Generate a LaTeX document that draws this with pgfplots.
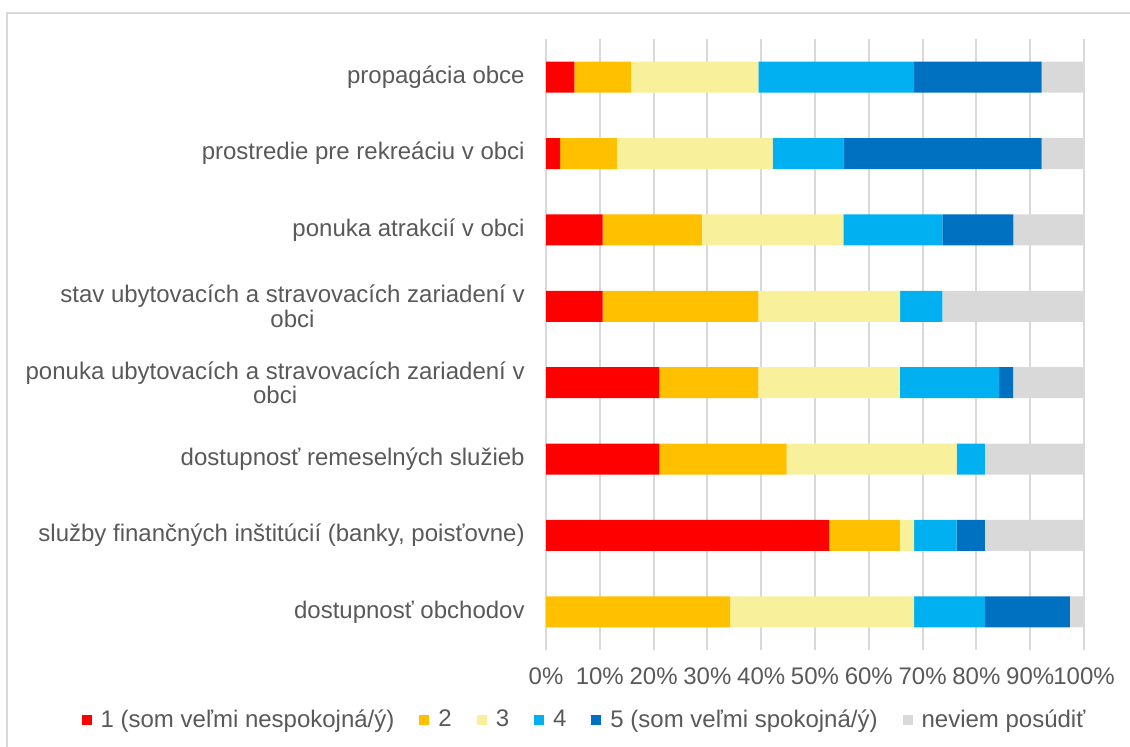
\documentclass[border=0pt]{standalone}
\usepackage{pgfplots}
\pgfplotsset{compat=1.18}
\usepackage{fontspec}
\setmainfont{Liberation Sans}
\definecolor{c1}{HTML}{FF0000}
\definecolor{c2}{HTML}{FFC000}
\definecolor{c3}{HTML}{F8F09B}
\definecolor{c4}{HTML}{00B0F0}
\definecolor{c5}{HTML}{0070C0}
\definecolor{c6}{HTML}{D9D9D9}
\definecolor{gridgray}{HTML}{D9D9D9}
\definecolor{txt}{HTML}{595959}

\begin{document}
\begin{tikzpicture}
\useasboundingbox (0pt,0pt) rectangle (565pt,373.5pt);
% chart frame (only left and top edges are visible)
\draw[gridgray, line width=1pt] (3.5pt,-2pt) -- (3.5pt,367pt) -- (567pt,367pt);
\begin{axis}[
  at={(273pt,48.5pt)}, anchor=south west,
  scale only axis,
  width=269pt, height=305.5pt,
  xbar stacked,
  bar width=15.5pt,
  xmin=0, xmax=100,
  ymin=-0.5, ymax=7.5,
  xtick={0,10,...,100},
  xticklabel={\pgfmathprintnumber{\tick}\%},
  ytick={0,...,7},
  yticklabels={
    dostupnosť obchodov,
    služby finančných inštitúcií (banky{,} poisťovne),
    dostupnosť remeselných služieb,
    ponuka ubytovacích a stravovacích zariadení v\\obci,
    stav ubytovacích a stravovacích zariadení v\\obci,
    ponuka atrakcií v obci,
    prostredie pre rekreáciu v obci,
    propagácia obce},
  /pgf/number format/assume math mode=true,
  major tick length=0pt,
  axis line style={draw=none},
  xmajorgrids,
  grid style={gridgray, line width=1pt},
  tick label style={text=txt, font=\fontsize{12}{11}\selectfont},
  yticklabel style={align=center, anchor=east, inner sep=0pt, xshift=-10.5pt},
  xticklabel style={anchor=base, inner sep=0pt, yshift=-17.5pt},
  legend columns=6,
  legend style={at={(0.0725,-0.1146)}, anchor=center, draw=none, fill=none,
    font=\fontsize{12}{14}\selectfont, text=txt,
    /tikz/every odd column/.append style={column sep=3pt},
    /tikz/every even column/.append style={column sep=11pt},
    nodes={inner sep=1.5pt}},
  legend image code/.code={\fill[#1] (0pt,-2.5pt) rectangle (5pt,2.5pt);},
]
% values in percent (n = 38); y: 0 = dostupnosť obchodov ... 7 = propagácia obce
\addplot[fill=c1, draw=none] coordinates {
  (0,0) (52.63,1) (21.05,2) (21.05,3) (10.53,4) (10.53,5) (2.63,6) (5.26,7)};
\addplot[fill=c2, draw=none] coordinates {
  (34.21,0) (13.16,1) (23.68,2) (18.42,3) (28.95,4) (18.42,5) (10.53,6) (10.53,7)};
\addplot[fill=c3, draw=none] coordinates {
  (34.21,0) (2.63,1) (31.58,2) (26.32,3) (26.32,4) (26.32,5) (28.95,6) (23.68,7)};
\addplot[fill=c4, draw=none] coordinates {
  (13.16,0) (7.89,1) (5.26,2) (18.42,3) (7.89,4) (18.42,5) (13.16,6) (28.95,7)};
\addplot[fill=c5, draw=none] coordinates {
  (15.79,0) (5.26,1) (0,2) (2.63,3) (0,4) (13.16,5) (36.84,6) (23.68,7)};
\addplot[fill=c6, draw=none] coordinates {
  (2.63,0) (18.42,1) (18.42,2) (13.16,3) (26.32,4) (13.16,5) (7.89,6) (7.89,7)};
\legend{1 (som veľmi nespokojná/ý), 2, 3, 4, 5 (som veľmi spokojná/ý), neviem posúdiť}
\end{axis}
\end{tikzpicture}
\end{document}
